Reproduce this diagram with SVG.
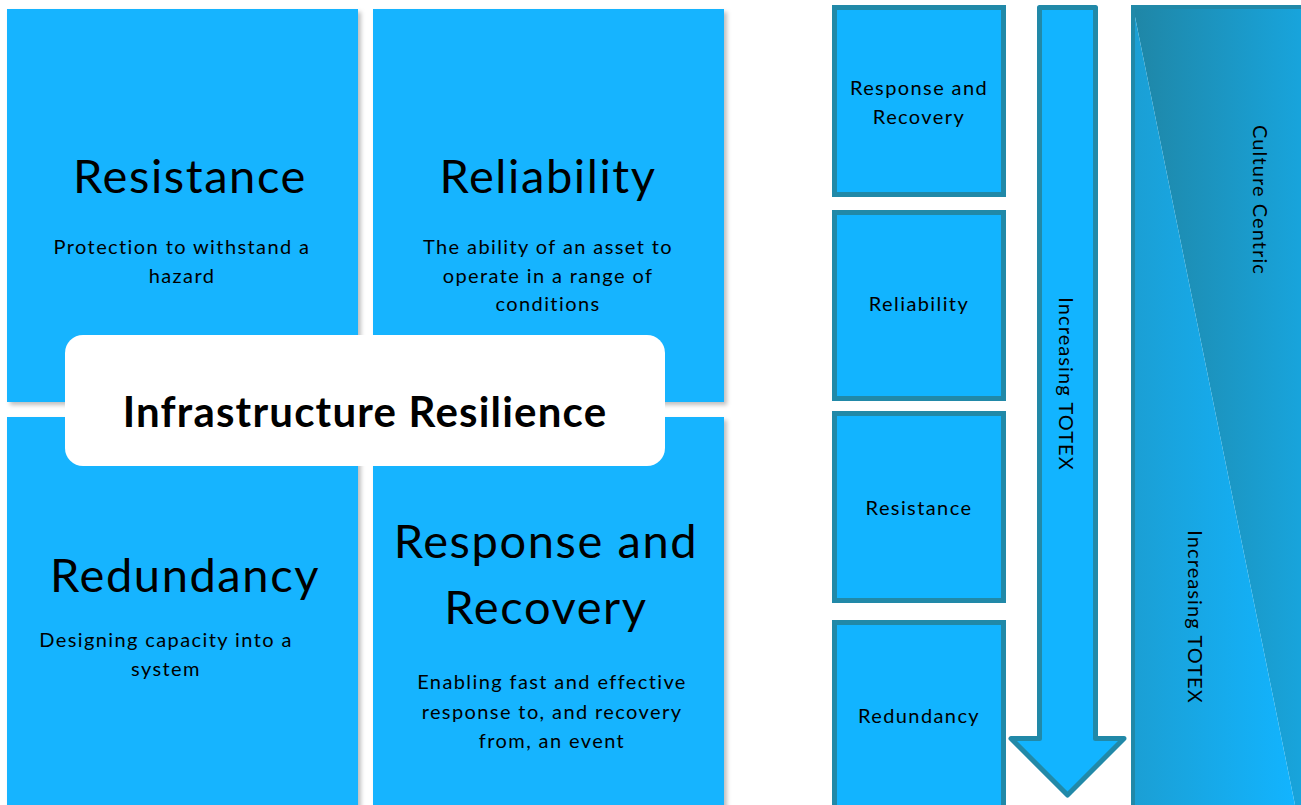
<svg xmlns="http://www.w3.org/2000/svg" width="1301" height="805" viewBox="0 0 1301 805">
<style>
.card{fill:#12b4ff;}
.t{font-family:Lato,"Liberation Sans",sans-serif;fill:#000;text-anchor:middle;}
.big{font-size:47px;letter-spacing:1.6px;}
.sub{font-size:20px;letter-spacing:1.4px;}
.lbl{font-size:20px;letter-spacing:1.4px;}
.rot{font-size:20px;letter-spacing:1.1px;}
.rbox{fill:#12b4ff;stroke:#2189a8;stroke-width:5;}
</style>
<defs>
<filter id="sh" x="-5%" y="-5%" width="115%" height="115%">
<feDropShadow dx="3" dy="3" stdDeviation="2" flood-color="#000" flood-opacity="0.25"/>
</filter>
<linearGradient id="gDark" x1="0" y1="0" x2="1" y2="0">
<stop offset="0" stop-color="#1f86a6"/>
<stop offset="1" stop-color="#18a4dc"/>
</linearGradient>
<linearGradient id="gLight" x1="0" y1="0" x2="1" y2="0">
<stop offset="0" stop-color="#1b9fd4"/>
<stop offset="1" stop-color="#12b4ff"/>
</linearGradient>
</defs>
<rect width="1301" height="805" fill="#fff"/>
<g id="resistance">
<rect class="card" x="7" y="9" width="351" height="393" filter="url(#sh)"/>
<text class="t big" x="190" y="193">Resistance</text>
<text class="t sub" x="182" y="254">Protection to withstand a</text>
<text class="t sub" x="182" y="283">hazard</text>
</g>
<g id="reliability">
<rect class="card" x="373" y="9" width="351" height="393" filter="url(#sh)"/>
<text class="t big" x="548" y="193">Reliability</text>
<text class="t sub" x="548" y="254">The ability of an asset to</text>
<text class="t sub" x="548" y="283">operate in a range of</text>
<text class="t sub" x="548" y="311">conditions</text>
</g>
<g id="redundancy">
<rect class="card" x="7" y="417" width="351" height="400" filter="url(#sh)"/>
<text class="t big" x="185" y="592">Redundancy</text>
<text class="t sub" x="166" y="647">Designing capacity into a</text>
<text class="t sub" x="166" y="676">system</text>
</g>
<g id="response-recovery">
<rect class="card" x="373" y="417" width="351" height="400" filter="url(#sh)"/>
<text class="t big" x="546" y="558">Response and</text>
<text class="t big" x="546" y="624">Recovery</text>
<text class="t sub" x="552" y="689">Enabling fast and effective</text>
<text class="t sub" x="552" y="719">response to, and recovery</text>
<text class="t sub" x="552" y="748">from, an event</text>
</g>
<g id="infrastructure-resilience">
<rect x="65" y="335" width="600" height="131" rx="18" fill="#fff"/>
<text class="t" x="365" y="427" font-size="42" font-weight="bold" letter-spacing="1.2">Infrastructure Resilience</text>
</g>
<g id="r-response">
<rect class="rbox" x="834.5" y="7.5" width="169" height="187"/>
<text class="t lbl" x="919" y="95">Response and</text>
<text class="t lbl" x="919" y="124">Recovery</text>
</g>
<g id="r-reliability">
<rect class="rbox" x="834.5" y="212.5" width="169" height="186"/>
<text class="t lbl" x="919" y="311">Reliability</text>
</g>
<g id="r-resistance">
<rect class="rbox" x="834.5" y="413.5" width="169" height="187"/>
<text class="t lbl" x="919" y="515">Resistance</text>
</g>
<g id="r-redundancy">
<rect class="rbox" x="834.5" y="622.5" width="169" height="200"/>
<text class="t lbl" x="919" y="723">Redundancy</text>
</g>
<g id="connectors">
<path d="M1039.5,7.5 L1095.5,7.5 L1095.5,738.5 L1124,738.5 L1067.5,795 L1011,738.5 L1039.5,738.5 Z" fill="#12b4ff" stroke="#2189a8" stroke-width="5" stroke-linejoin="round"/>
<text class="t rot" transform="translate(1059,384) rotate(90)">Increasing TOTEX</text>
</g>
<g id="culture-panel">
<polygon points="1133,7 1301,7 1301,805 1295,805" fill="url(#gDark)"/>
<polygon points="1133,7 1295,805 1133,805" fill="url(#gLight)"/>
<path d="M1133,805 L1133,7 L1301,7" fill="none" stroke="#2189a8" stroke-width="4"/>
<text class="t rot" transform="translate(1253,200) rotate(90)">Culture Centric</text>
<text class="t rot" transform="translate(1188,617) rotate(90)">Increasing TOTEX</text>
</g>
</svg>
